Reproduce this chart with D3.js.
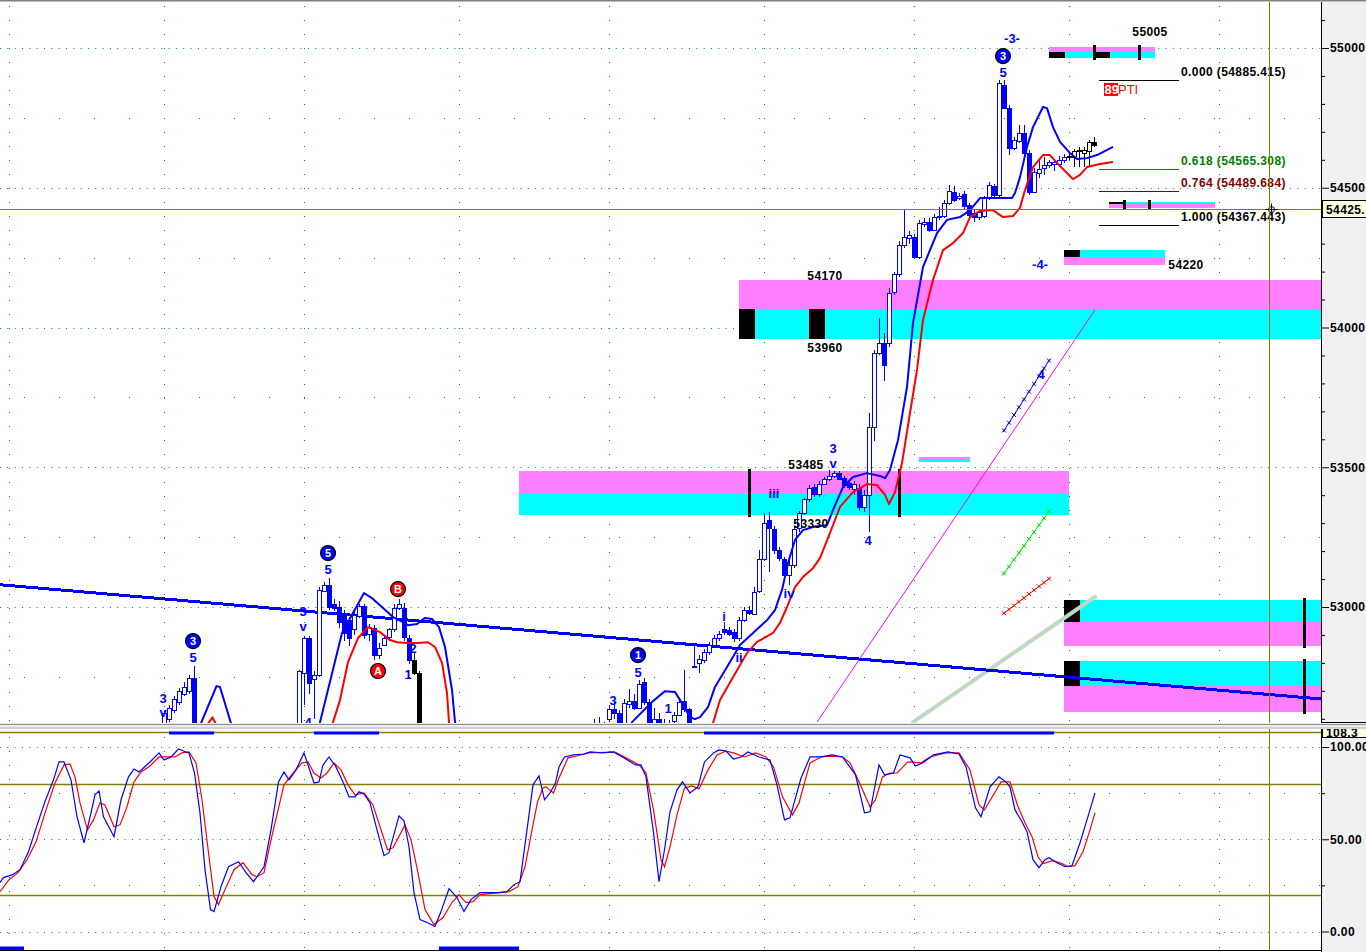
<!DOCTYPE html>
<html>
<head>
<meta charset="utf-8">
<title>Chart</title>
<script src="https://cdnjs.cloudflare.com/ajax/libs/d3/7.8.5/d3.min.js"></script>
<style>
  body { margin: 0; background: #fff; overflow: hidden; }
  svg text { font-family: "Liberation Sans", Arial, sans-serif; }
</style>
</head>
<body>
<div id="chart"></div>
<script>
// ---------- data ----------
var priceTicks = [53000, 53500, 54000, 54500, 55000];
var oscTicks = [0, 50, 100];
var oscBands = [20, 80];
var gridBars = [1, 32, 60, 91, 121, 152, 182, 213, 243];

// [bar, open, high, low, close]
var candles = [
  [32, 52560, 52630, 52550, 52620], [33, 52600, 52650, 52590, 52640], [34, 52630, 52680, 52620, 52670],
  [35, 52660, 52710, 52650, 52700], [36, 52690, 52730, 52680, 52715], [37, 52700, 52755, 52690, 52745],
  [38, 52745, 52790, 52480, 52500],
  [59, 52550, 52775, 52500, 52770], [60, 52765, 52895, 52650, 52890], [61, 52890, 52895, 52690, 52730],
  [62, 52740, 52770, 52600, 52755], [63, 52755, 53070, 52750, 53060], [64, 53060, 53090, 53055, 53080],
  [65, 53080, 53105, 52990, 53000], [66, 53010, 53030, 52985, 52995], [67, 53000, 53020, 52925, 52945],
  [68, 52970, 52990, 52880, 52905], [69, 52955, 52965, 52860, 52890], [70, 52920, 52985, 52900, 52970],
  [71, 52970, 53010, 52960, 53005], [72, 53005, 53010, 52885, 52900], [73, 52905, 52940, 52880, 52930],
  [74, 52925, 52935, 52810, 52830], [75, 52830, 52870, 52815, 52855], [76, 52865, 52895, 52860, 52890],
  [77, 52890, 52925, 52880, 52920], [78, 52920, 53010, 52910, 52995], [79, 52995, 53030, 52990, 53010],
  [80, 52995, 53015, 52880, 52890], [81, 52890, 52900, 52795, 52810], [82, 52810, 52840, 52755, 52765],
  [83, 52765, 52770, 52480, 52500],
  [118, 52540, 52600, 52520, 52560], [119, 52560, 52605, 52530, 52550], [120, 52550, 52590, 52520, 52540],
  [121, 52600, 52650, 52590, 52635], [122, 52635, 52665, 52600, 52620], [123, 52620, 52630, 52560, 52580],
  [124, 52580, 52670, 52570, 52655], [125, 52655, 52705, 52640, 52665], [126, 52665, 52690, 52630, 52640],
  [127, 52640, 52740, 52635, 52725], [128, 52730, 52745, 52650, 52660], [129, 52660, 52670, 52520, 52540],
  [130, 52540, 52640, 52530, 52600], [131, 52600, 52620, 52540, 52560], [132, 52560, 52600, 52540, 52580],
  [133, 52580, 52595, 52550, 52570], [134, 52595, 52625, 52580, 52615], [135, 52615, 52670, 52610, 52660],
  [136, 52665, 52775, 52625, 52635], [137, 52635, 52640, 52540, 52560], [138, 52785, 52870, 52780, 52790],
  [139, 52800, 52830, 52765, 52815], [140, 52810, 52850, 52800, 52840], [141, 52840, 52875, 52830, 52865],
  [142, 52865, 52900, 52855, 52890], [143, 52890, 52915, 52880, 52905], [144, 52920, 52945, 52900, 52910],
  [145, 52918, 52930, 52895, 52905], [146, 52910, 52920, 52875, 52890], [147, 52890, 52965, 52880, 52955],
  [148, 52955, 53000, 52945, 52990], [149, 52990, 53005, 52970, 52978], [150, 52978, 53070, 52970, 53055],
  [151, 53055, 53205, 53050, 53170], [152, 53170, 53335, 53165, 53300], [153, 53310, 53340, 53125, 53280],
  [154, 53280, 53290, 53190, 53205], [155, 53205, 53215, 53165, 53175], [156, 53172, 53180, 53100, 53115],
  [157, 53115, 53165, 53080, 53150], [158, 53150, 53290, 53140, 53280], [159, 53280, 53345, 53270, 53335],
  [160, 53335, 53390, 53330, 53385], [161, 53385, 53435, 53375, 53425], [162, 53430, 53440, 53395, 53405],
  [163, 53405, 53450, 53395, 53440], [164, 53440, 53465, 53435, 53458], [165, 53458, 53490, 53450, 53470],
  [166, 53470, 53485, 53460, 53480], [167, 53480, 53485, 53455, 53460], [168, 53460, 53470, 53425, 53435],
  [169, 53443, 53455, 53420, 53430], [170, 53422, 53450, 53400, 53440], [171, 53426, 53440, 53345, 53358],
  [172, 53358, 53420, 53340, 53400], [173, 53400, 53695, 53270, 53645], [174, 53645, 53920, 53595, 53910],
  [175, 53910, 54035, 53900, 53945], [176, 53945, 53980, 53810, 53865], [177, 53945, 54140, 53930, 54125],
  [178, 54125, 54200, 54115, 54190], [179, 54190, 54310, 54180, 54295], [180, 54295, 54420, 54285, 54325],
  [181, 54320, 54345, 54300, 54330], [182, 54325, 54335, 54250, 54252], [183, 54252, 54385, 54245, 54375],
  [184, 54370, 54390, 54360, 54378], [185, 54378, 54390, 54340, 54350], [186, 54350, 54405, 54345, 54395],
  [187, 54395, 54430, 54385, 54400], [188, 54400, 54455, 54390, 54445], [189, 54445, 54510, 54440, 54488],
  [190, 54485, 54505, 54450, 54456], [191, 54463, 54480, 54455, 54470], [192, 54478, 54490, 54425, 54435],
  [193, 54438, 54445, 54395, 54402], [194, 54410, 54420, 54377, 54395], [195, 54395, 54425, 54385, 54413],
  [196, 54400, 54470, 54390, 54463], [197, 54463, 54520, 54455, 54510], [198, 54506, 54515, 54460, 54474],
  [199, 54474, 54885, 54465, 54875], [200, 54868, 54885, 54780, 54785], [201, 54785, 54795, 54617, 54642],
  [202, 54642, 54680, 54635, 54671], [203, 54667, 54724, 54660, 54696], [204, 54696, 54724, 54615, 54624],
  [205, 54624, 54635, 54475, 54485], [206, 54485, 54570, 54480, 54556], [207, 54553, 54606, 54535, 54567],
  [208, 54570, 54610, 54546, 54581], [209, 54581, 54600, 54570, 54592], [210, 54585, 54600, 54560, 54592],
  [211, 54585, 54615, 54575, 54599], [212, 54599, 54620, 54590, 54610], [213, 54610, 54625, 54600, 54614],
  [214, 54610, 54640, 54574, 54631], [215, 54631, 54645, 54574, 54636], [216, 54625, 54645, 54574, 54635],
  [217, 54631, 54670, 54574, 54664], [218, 54664, 54682, 54645, 54653]
];
var blackBars = [82, 83, 213, 214, 215, 216, 217, 218];

// moving-average style curves, [bar, price], one array per visible stretch
var blueMA = [
  [[38.6, 52550], [42.5, 52717], [43.2, 52714], [45.8, 52560]],
  [[62.8, 52540], [63.2, 52588], [67.6, 52907], [72, 53050], [73.8, 53029], [77.8, 52964], [79.8, 52946],
   [80.8, 52935], [82.6, 52939], [84.2, 52961], [85.6, 52957], [87, 52928], [88.2, 52857], [89.6, 52703],
   [90.2, 52588], [90.5, 52540]],
  [[125.2, 52540], [125.6, 52588], [129.6, 52660], [132.2, 52699], [134.2, 52696], [135.6, 52656],
   [137.2, 52606], [138.2, 52599], [139.2, 52606], [140.8, 52642], [142.2, 52714], [144.6, 52785],
   [147.2, 52864], [149.8, 52907], [152.6, 52953], [154.2, 52989], [155.6, 53061], [156.8, 53157],
   [158.2, 53240], [159.8, 53275], [161.8, 53286], [164.6, 53293], [165.8, 53347], [167.8, 53429],
   [169.8, 53465], [172.6, 53479], [175.2, 53469], [176.2, 53461], [177.2, 53490], [178.8, 53597],
   [180.6, 53787], [181.8, 54016], [183.8, 54216], [186.6, 54338], [188.6, 54385], [191.2, 54395],
   [193.2, 54420], [195.2, 54463], [198.6, 54463], [201.6, 54463], [202.2, 54481], [203.2, 54538],
   [204.6, 54646], [205.8, 54717], [207.8, 54789], [208.6, 54785], [209.8, 54717], [211.2, 54664],
   [213.2, 54624], [214.6, 54603], [216.6, 54606], [218.6, 54617], [221.8, 54646]]
];
var redMA = [
  [[40.3, 52570], [41.7, 52605], [42.7, 52570]],
  [[65.5, 52540], [65.8, 52588], [67.2, 52667], [68.8, 52803], [70.8, 52889], [72.8, 52928], [75.2, 52910],
   [77.2, 52882], [78.6, 52874], [80.6, 52871], [82.6, 52871], [84.8, 52874], [86.2, 52857], [87.6, 52800],
   [88.6, 52692], [89, 52588], [89.2, 52540]],
  [[141.5, 52540], [141.8, 52585], [143.2, 52667], [145.8, 52749], [148.6, 52835], [150.6, 52875],
   [153.8, 52907], [155.2, 52943], [156.6, 53000], [158.2, 53071], [159.8, 53107], [161.8, 53139],
   [163.2, 53175], [165.2, 53265], [167.2, 53358], [169.8, 53411], [172.6, 53440], [174.6, 53436],
   [176.2, 53401], [177, 53368], [178.2, 53411], [179.6, 53515], [181.2, 53694], [182.6, 53848],
   [183.8, 54027], [185.8, 54170], [187.8, 54277], [189.8, 54302], [191.8, 54338], [193.2, 54395],
   [195.2, 54417], [197.8, 54420], [199.8, 54395], [201.8, 54399], [203.2, 54428], [204.2, 54492],
   [205.8, 54574], [207.8, 54617], [209.2, 54617], [210.6, 54589], [212.6, 54553], [213.8, 54531],
   [215.2, 54546], [216.6, 54574], [219.2, 54585], [221.8, 54592]]
];

// drawn lines, [bar, price] end points
var trendBlue = [[-1, 53080], [264, 52670]];
var trendMagenta = [[162.6, 52588], [218.2, 54063]];
var trendGreyGreen = [[181.8, 52588], [218.2, 53036]];
var crossBlue = [[199.8, 53626], [209.2, 53887]];
var crossGreen = [[199.8, 53115], [209.2, 53347]];
var crossRed = [[199.8, 52975], [209.2, 53104]];
var crossMarks = [200, 201, 202, 203, 204, 205, 206, 207, 208, 209];

// zones: bar span, [top, middle, bottom] price, kind (S = magenta over cyan, D = cyan over magenta)
var zoneBars = [[147, 264], [103, 213], [209, 230.2], [212, 232.2], [221, 242.2], [183, 193.2], [212, 264], [212, 264]];
var zoneLevels = [[54170, 54065, 53960], [53485, 53407, 53330], [55005, 54986, 54964], [54277, 54252, 54222],
                  [54449, 54442, 54428], [53537, 53530, 53519], [53025, 52946, 52860], [52807, 52717, 52624]];
var zoneKind = ['S', 'S', 'S', 'D', 'D', 'S', 'D', 'D'];
var zoneBlocks = [[147, 161], [], [209, 218], [212], [221], [], [212], [212]];
var zoneMarks = [[], [149, 179], [218, 227], [], [224, 229], [], [260], [260]];

// fibonacci retracement
var fibRatios = ['0.000', '0.618', '0.764', '1.000'];
var fibPrices = [54885.415, 54565.308, 54489.684, 54367.443];
var fibBars = [219, 235];

// annotations [bar, price, text]
var waveLabels = [
  [31.8, 52674, '3'], [31.8, 52624, 'v'], [37.8, 52821, '5'], [64.8, 53136, '5'], [59.8, 52986, '3'],
  [59.8, 52932, 'v'], [81.8, 52853, '2'], [80.8, 52760, '1'], [60.8, 52588, '4'], [126.8, 52767, '5'],
  [121.8, 52667, '3'], [132.8, 52639, '1'], [144, 52968, 'i'], [147, 52821, 'ii'], [154, 53408, 'iii'],
  [157, 53050, 'iv'], [165.8, 53569, '3'], [165.8, 53515, 'v'], [172.8, 53240, '4'], [199.8, 54914, '5'],
  [201.6, 55036, '-3-'], [207.2, 54227, '-4-'], [207.4, 53834, '4']
];
var circleLabels = [[37.8, 52878, '3'], [64.8, 53193, '5'], [126.8, 52828, '1'], [199.8, 54971, '3']];
var redCircleLabels = [[78.8, 53064, 'B'], [74.8, 52771, 'A']];
var priceLabels = [
  [229.2, 55057, '55005'], [164.2, 54184, '54170'], [164.2, 53927, '53960'], [160.4, 53508, '53485'],
  [161.4, 53297, '53330'], [236.4, 54224, '54220']
];
var ptiLabel = [220, 54832, '89', 'PTI'];

// oscillator [bar, value]
var oscK = [
  [-0.8, 26.5], [-0.1, 29.2], [1.7, 30.8], [3.2, 33.5], [4.9, 43.2], [6.3, 55.1], [8.1, 69.7], [9.9, 82.2],
  [11, 91.9], [12, 91.9], [13.4, 82.2], [14.6, 62.2], [16, 48.1], [17.4, 64.3], [18.2, 74.1], [19, 76.2],
  [19.9, 62.2], [22, 51.4], [23.4, 71.4], [24.9, 83.8], [26, 88.1], [27, 86.5], [29.2, 91.9], [31, 96.8],
  [32, 93.0], [33.4, 94.6], [34.9, 98.9], [36.4, 97.3], [37, 96.8], [38.1, 85.9], [39.2, 64.3], [40.2, 33.5],
  [41.3, 11.9], [42, 10.8], [43.4, 24.3], [44.9, 35.1], [46.9, 37.8], [48.4, 31.9], [49.9, 27.0], [52, 35.1],
  [53.4, 55.1], [54.9, 81.1], [56, 86.5], [57, 82.2], [58.4, 87.6], [60, 96.8], [62, 80.5], [63, 81.1],
  [63.8, 90.3], [65, 94.6], [66.4, 89.2], [67.8, 81.1], [69, 73.0], [70.2, 73.0], [71, 75.7], [72, 74.6],
  [73.2, 69.7], [74.6, 55.1], [76, 41.1], [77, 42.7], [79, 62.7], [80, 60.0], [81, 45.9], [82, 21.1],
  [83.2, 6.5], [84.6, 4.9], [86.2, 2.7], [87.4, 10.8], [89, 23.2], [90.6, 18.4], [92, 10.8], [93.4, 17.3],
  [95.2, 21.1], [98.8, 21.1], [100.6, 21.6], [102, 25.4], [103.2, 27.0], [104.6, 55.1], [105.8, 79.5],
  [107, 84.3], [108.1, 71.4], [109.2, 75.1], [110.3, 80.5], [111, 89.2], [112.1, 94.6], [113.9, 95.7],
  [116.1, 96.2], [117.2, 97.3], [119.7, 96.8], [121.9, 97.3], [123.7, 94.6], [126.3, 90.3], [127.4, 90.3],
  [128.4, 83.8], [129.9, 53.5], [131, 27.0], [132.1, 44.3], [133.2, 64.9], [134.6, 76.8], [135.7, 81.1],
  [137.2, 75.1], [138.8, 78.4], [140.1, 91.9], [141.9, 96.8], [143, 98.4], [144.4, 97.8], [145.9, 93.5],
  [147.4, 94.6], [148.8, 97.3], [151, 94.6], [153.2, 93.0], [154.6, 79.5], [156.1, 60.5], [157.2, 61.6],
  [159.4, 83.2], [161.2, 94.6], [163.4, 94.6], [165.6, 95.7], [167.7, 94.6], [170.3, 84.9], [172.1, 64.3],
  [173.2, 64.9], [175, 90.3], [176.1, 84.9], [177.9, 85.9], [179.2, 95.7], [181.2, 94.1], [182.3, 89.7],
  [183.7, 91.4], [185.9, 95.7], [188.8, 97.3], [191, 96.2], [192.4, 89.2], [194.3, 67.0], [195.4, 62.2],
  [197.2, 78.4], [199, 83.8], [200.4, 81.1], [201.2, 78.4], [202.2, 65.9], [203.6, 59.5], [204.6, 54.1],
  [205.8, 38.9], [207, 34.6], [208.2, 38.9], [209, 40.0], [210.6, 37.3], [212.2, 35.1], [213.6, 35.7],
  [215.2, 48.1], [216.6, 60.5], [218.2, 75.1]
];
var oscD = [
  [-0.8, 21.6], [1, 28.1], [2.8, 31.9], [4.6, 38.9], [6.4, 48.6], [8.4, 65.9], [10.2, 80.5], [12, 90.3],
  [13.2, 90.8], [14.2, 83.8], [15.2, 69.7], [16.7, 55.1], [17.9, 60.5], [19.2, 69.7], [20.2, 68.6], [22, 56.8],
  [23.2, 57.8], [24.6, 67.6], [26, 81.1], [27.4, 86.5], [29.2, 89.7], [31, 94.6], [34.2, 94.6], [35.6, 96.8],
  [37, 97.3], [38.4, 91.4], [39.6, 71.4], [41, 40.5], [42, 18.9], [42.9, 14.6], [44.2, 22.7], [46, 33.5],
  [47.8, 37.3], [49.6, 30.8], [50.6, 29.7], [52, 31.9], [53.4, 49.7], [56, 79.5], [57.8, 85.9], [59.6, 91.4],
  [60.8, 91.9], [62, 85.9], [63.4, 83.2], [64.6, 85.9], [66, 91.4], [67.4, 87.6], [68.8, 79.5], [70.2, 74.1],
  [72, 75.1], [73.8, 68.6], [75.2, 56.8], [76.7, 44.3], [77.8, 45.4], [80.2, 57.8], [81.4, 49.7], [82.8, 31.9],
  [84.2, 11.9], [86, 3.8], [87.8, 7.6], [89.6, 15.7], [91, 20.0], [92.4, 15.7], [93.8, 16.2], [95.2, 20.0],
  [99.2, 21.1], [101, 21.6], [102.8, 24.3], [104.2, 35.1], [105.6, 55.1], [106.7, 70.3], [107.8, 77.8],
  [108.4, 78.4], [109.9, 75.1], [111, 83.2], [112.8, 94.1], [114.6, 95.1], [116.8, 96.8], [122.2, 97.3],
  [124.4, 94.1], [127, 90.3], [128.4, 85.9], [129.9, 65.9], [131.4, 38.9], [132.1, 35.1], [133.2, 45.9],
  [134.6, 63.2], [136.1, 77.8], [137.6, 78.9], [139, 77.3], [140.8, 87.6], [142.6, 95.7], [144.4, 97.8],
  [145.9, 96.8], [148.1, 94.6], [150.3, 96.8], [152.4, 94.6], [153.9, 89.2], [155.7, 73.0], [157.7, 63.2],
  [159, 69.7], [161.2, 91.4], [163.4, 94.6], [165.6, 95.1], [167.7, 94.6], [169.2, 91.4], [171, 81.1],
  [173.2, 67.6], [174.3, 71.4], [175.7, 83.8], [177.2, 85.9], [178.6, 85.9], [180.8, 91.9], [183.4, 91.4],
  [185.2, 94.6], [188.4, 96.8], [191, 96.8], [193.2, 87.6], [195, 68.6], [196.1, 65.9], [197.9, 74.1],
  [199.4, 81.1], [201.2, 81.1], [202.8, 67.6], [204.2, 58.9], [205.6, 51.4], [206.8, 40.5], [207.8, 36.8],
  [209.8, 38.4], [211.6, 36.8], [212.8, 35.1], [214.2, 35.7], [215.8, 43.2], [217.2, 55.1], [218.2, 64.3]
];
var topMarkers = [[33, 42], [62, 75], [140, 210]];
var bottomMarkers = [[-1, 4], [87, 103]];

var crossBar = 253;
var crossPrice = 54425;
var crossOsc = 108.3;

// ---------- layout ----------
var W = 1366, H = 952;
var plotRight = 1321;
var priceTop = 2, priceBottom = 726;
var oscTop = 731, oscBottom = 950;

var x = d3.scaleLinear().domain([0, 218]).range([4, 1094]);
var y = d3.scaleLinear().domain([53000, 55000]).range([607, 48]);
var yo = d3.scaleLinear().domain([0, 100]).range([931.5, 747]);

var BLUE = '#0000ff', RED = '#ff0000', OLIVE = '#808000', TEAL = '#008080';
var MAGENTA = '#ff80ff', CYAN = '#00ffff';
var SPACING = '0.4px';

var svg = d3.select('#chart')
  .append('svg')
    .attr('width', W)
    .attr('height', H);

svg.append('rect').attr('width', W).attr('height', H).attr('fill', '#fff');

var defs = svg.append('defs');
defs.append('clipPath').attr('id', 'clipPrice')
  .append('rect').attr('x', 0).attr('y', priceTop).attr('width', plotRight).attr('height', priceBottom - priceTop);
defs.append('clipPath').attr('id', 'clipOsc')
  .append('rect').attr('x', 0).attr('y', oscTop).attr('width', plotRight).attr('height', oscBottom - oscTop);
defs.append('clipPath').attr('id', 'clipOscLabel')
  .append('rect').attr('x', plotRight).attr('y', 729).attr('width', 50).attr('height', 10);

function px(v) { return Math.round(v) + 0.5; }

// ---------- price panel ----------
var price = svg.append('g').attr('clip-path', 'url(#clipPrice)');

// grid
var grid = price.append('g');
grid.selectAll('line.h')
  .data(priceTicks)
  .enter().append('line')
    .attr('x1', 0).attr('x2', plotRight)
    .attr('y1', function(d) { return px(y(d)); })
    .attr('y2', function(d) { return px(y(d)); })
    .attr('stroke', TEAL)
    .attr('stroke-dasharray', '1,6.33');
var halfLevels = [52750, 53250, 53750, 54250, 54750];
var sparse = d3.range(4, 264, 7);
halfLevels.forEach(function(lv) {
  grid.selectAll(null)
    .data(sparse)
    .enter().append('rect')
      .attr('x', function(d) { return Math.round(x(d)); })
      .attr('y', Math.round(y(lv)))
      .attr('width', 1).attr('height', 1)
      .attr('fill', TEAL);
});
grid.selectAll('line.v')
  .data(gridBars)
  .enter().append('line')
    .attr('x1', function(d) { return px(x(d)); })
    .attr('x2', function(d) { return px(x(d)); })
    .attr('y1', 0).attr('y2', priceBottom)
    .attr('stroke', TEAL)
    .attr('stroke-dasharray', '1,13')
    .attr('stroke-dashoffset', 8);

// zones
var zg = price.append('g').attr('shape-rendering', 'crispEdges');
zoneBars.forEach(function(b, i) {
  var lv = zoneLevels[i];
  var x0 = x(b[0]), x1 = x(b[1]);
  var topCol = zoneKind[i] === 'S' ? MAGENTA : CYAN;
  var botCol = zoneKind[i] === 'S' ? CYAN : MAGENTA;
  zg.append('rect')
    .attr('x', x0).attr('y', y(lv[0]))
    .attr('width', x1 - x0).attr('height', y(lv[1]) - y(lv[0]))
    .attr('fill', topCol);
  zg.append('rect')
    .attr('x', x0).attr('y', y(lv[1]))
    .attr('width', x1 - x0).attr('height', y(lv[2]) - y(lv[1]))
    .attr('fill', botCol);
  // black blocks sit in the cyan half
  var by0 = zoneKind[i] === 'S' ? y(lv[1]) : y(lv[0]);
  var by1 = zoneKind[i] === 'S' ? y(lv[2]) : y(lv[1]);
  zg.selectAll(null)
    .data(zoneBlocks[i])
    .enter().append('rect')
      .attr('x', function(d) { return x(d); })
      .attr('y', by0)
      .attr('width', x(3.2) - x(0))
      .attr('height', by1 - by0)
      .attr('fill', '#000');
  zg.selectAll(null)
    .data(zoneMarks[i])
    .enter().append('rect')
      .attr('x', function(d) { return Math.round(x(d)) - 1; })
      .attr('y', y(lv[0]) - 2)
      .attr('width', 3)
      .attr('height', y(lv[2]) - y(lv[0]) + 4)
      .attr('fill', '#000');
});

// trend lines
var seg = d3.line()
  .x(function(d) { return x(d[0]); })
  .y(function(d) { return y(d[1]); });

price.append('path').datum(trendGreyGreen)
  .attr('d', seg).attr('fill', 'none')
  .attr('stroke', '#c0d8c0').attr('stroke-width', 4).attr('stroke-linecap', 'round');
price.append('path').datum(trendMagenta)
  .attr('d', seg).attr('fill', 'none')
  .attr('stroke', '#ff00ff').attr('stroke-width', 1);
price.append('path').datum(trendBlue)
  .attr('d', seg).attr('fill', 'none')
  .attr('stroke', BLUE).attr('stroke-width', 3)
  .attr('shape-rendering', 'crispEdges');

function crossLine(pts, col) {
  price.append('path').datum(pts)
    .attr('d', seg).attr('fill', 'none')
    .attr('stroke', col).attr('stroke-width', 1);
  var a = pts[0], b = pts[1];
  var interp = d3.scaleLinear().domain([a[0], b[0]]).range([a[1], b[1]]);
  crossMarks.forEach(function(k) {
    var cx = x(k), cy = y(interp(k));
    price.append('path')
      .attr('d', 'M' + (cx - 2) + ',' + (cy - 2) + 'L' + (cx + 2) + ',' + (cy + 2) +
                 'M' + (cx - 2) + ',' + (cy + 2) + 'L' + (cx + 2) + ',' + (cy - 2))
      .attr('stroke', col).attr('stroke-width', 1);
  });
}
crossLine(crossBlue, BLUE);
crossLine(crossGreen, '#00e000');
crossLine(crossRed, RED);

// candles
var cg = price.append('g').attr('shape-rendering', 'crispEdges');
var bar = cg.selectAll('g.bar')
  .data(candles)
  .enter().append('g');
function barColor(d) { return blackBars.indexOf(d[0]) >= 0 ? '#000' : BLUE; }
bar.append('line')
  .attr('x1', function(d) { return px(x(d[0])); })
  .attr('x2', function(d) { return px(x(d[0])); })
  .attr('y1', function(d) { return y(d[2]); })
  .attr('y2', function(d) { return y(d[3]); })
  .attr('stroke', barColor);
bar.append('rect')
  .attr('x', function(d) { return Math.round(x(d[0])) - 1.5; })
  .attr('y', function(d) { return Math.round(Math.min(y(d[1]), y(d[4]))) + 0.5; })
  .attr('width', 4)
  .attr('height', function(d) { return Math.max(1, Math.round(Math.abs(y(d[1]) - y(d[4])))); })
  .attr('fill', function(d) { return d[4] >= d[1] ? '#fff' : barColor(d); })
  .attr('stroke', barColor);

// curves
var curve = d3.line()
  .x(function(d) { return x(d[0]); })
  .y(function(d) { return y(d[1]); });
redMA.forEach(function(s) {
  price.append('path').datum(s)
    .attr('d', curve).attr('fill', 'none')
    .attr('stroke', RED).attr('stroke-width', 2).attr('stroke-linejoin', 'round');
});
blueMA.forEach(function(s) {
  price.append('path').datum(s)
    .attr('d', curve).attr('fill', 'none')
    .attr('stroke', BLUE).attr('stroke-width', 2).attr('stroke-linejoin', 'round');
});

// fibonacci
var fibCols = ['#000', '#008000', '#800000', '#000'];
fibPrices.forEach(function(p, i) {
  price.append('line')
    .attr('x1', x(fibBars[0])).attr('x2', x(fibBars[1]))
    .attr('y1', px(y(p))).attr('y2', px(y(p)))
    .attr('stroke', fibCols[i]).attr('shape-rendering', 'crispEdges');
  price.append('text')
    .attr('x', x(fibBars[1]) + 2)
    .attr('y', y(p) - 4)
    .attr('fill', fibCols[i])
    .attr('font-size', 12).attr('font-weight', 'bold')
    .attr('letter-spacing', SPACING)
    .text(fibRatios[i] + ' (' + d3.format('.3f')(p) + ')');
});

// 89PTI tag
var ptx = x(ptiLabel[0]), pty = y(ptiLabel[1]);
price.append('rect').attr('x', ptx).attr('y', pty - 12).attr('width', 14).attr('height', 13).attr('fill', RED);
price.append('text').attr('x', ptx + 0.5).attr('y', pty - 1).attr('fill', '#fff')
  .attr('font-size', 13).attr('font-weight', 'bold').text(ptiLabel[2]);
price.append('text').attr('x', ptx + 14).attr('y', pty - 1).attr('fill', RED)
  .attr('font-size', 13).text(ptiLabel[3]);

// labels
price.selectAll('text.wave')
  .data(waveLabels)
  .enter().append('text')
    .attr('x', function(d) { return x(d[0]); })
    .attr('y', function(d) { return y(d[1]); })
    .attr('dy', '0.36em')
    .attr('text-anchor', 'middle')
    .attr('fill', BLUE)
    .attr('font-size', 13).attr('font-weight', 'bold')
    .text(function(d) { return d[2]; });

function circled(list, fill) {
  var g = price.selectAll(null).data(list).enter().append('g')
    .attr('transform', function(d) { return 'translate(' + x(d[0]) + ',' + y(d[1]) + ')'; });
  g.append('circle').attr('r', 7.5).attr('fill', fill).attr('stroke', '#000').attr('stroke-width', 1.2);
  g.append('text')
    .attr('dy', '0.36em').attr('text-anchor', 'middle')
    .attr('fill', '#fff').attr('font-size', 11).attr('font-weight', 'bold')
    .text(function(d) { return d[2]; });
}
circled(circleLabels, BLUE);
circled(redCircleLabels, RED);

price.selectAll('text.lvl')
  .data(priceLabels)
  .enter().append('text')
    .attr('x', function(d) { return x(d[0]); })
    .attr('y', function(d) { return y(d[1]); })
    .attr('dy', '0.36em')
    .attr('text-anchor', 'middle')
    .attr('fill', '#000')
    .attr('font-size', 12).attr('font-weight', 'bold')
    .attr('letter-spacing', SPACING)
    .text(function(d) { return d[2]; });

// crosshair
price.append('line')
  .attr('x1', 0).attr('x2', plotRight)
  .attr('y1', px(y(crossPrice))).attr('y2', px(y(crossPrice)))
  .attr('stroke', OLIVE);
var cxp = px(x(crossBar)) + 2, cyp = px(y(crossPrice));
price.append('path')
  .attr('d', 'M' + (cxp - 6) + ',' + cyp + 'H' + (cxp + 6) + 'M' + cxp + ',' + (cyp - 6) + 'V' + (cyp + 6))
  .attr('stroke', '#000');
price.append('circle').attr('cx', cxp).attr('cy', cyp).attr('r', 3)
  .attr('fill', 'none').attr('stroke', '#000');

// ---------- oscillator panel ----------
var osc = svg.append('g').attr('clip-path', 'url(#clipOsc)');
osc.selectAll('line.h')
  .data(oscTicks)
  .enter().append('line')
    .attr('x1', 0).attr('x2', plotRight)
    .attr('y1', function(d) { return px(yo(d)); })
    .attr('y2', function(d) { return px(yo(d)); })
    .attr('stroke', TEAL)
    .attr('stroke-dasharray', '1,6.33');
[25, 75].forEach(function(lv) {
  osc.selectAll(null)
    .data(sparse)
    .enter().append('rect')
      .attr('x', function(d) { return Math.round(x(d)); })
      .attr('y', Math.round(yo(lv)))
      .attr('width', 1).attr('height', 1)
      .attr('fill', TEAL);
});
osc.selectAll('line.v')
  .data(gridBars)
  .enter().append('line')
    .attr('x1', function(d) { return px(x(d)); })
    .attr('x2', function(d) { return px(x(d)); })
    .attr('y1', oscTop).attr('y2', oscBottom)
    .attr('stroke', TEAL)
    .attr('stroke-dasharray', '1,13')
    .attr('stroke-dashoffset', 8);
osc.selectAll('line.band')
  .data(oscBands)
  .enter().append('line')
    .attr('x1', 0).attr('x2', plotRight)
    .attr('y1', function(d) { return px(yo(d)); })
    .attr('y2', function(d) { return px(yo(d)); })
    .attr('stroke', OLIVE).attr('stroke-width', 1.3);
osc.append('line')
  .attr('x1', 0).attr('x2', plotRight)
  .attr('y1', px(yo(crossOsc))).attr('y2', px(yo(crossOsc)))
  .attr('stroke', OLIVE).attr('stroke-width', 1.3);

var oscLine = d3.line()
  .x(function(d) { return x(d[0]); })
  .y(function(d) { return yo(d[1]); });
osc.append('path').datum(oscD)
  .attr('d', oscLine).attr('fill', 'none').attr('stroke', RED).attr('stroke-width', 1.2);
osc.append('path').datum(oscK)
  .attr('d', oscLine).attr('fill', 'none').attr('stroke', BLUE).attr('stroke-width', 1.2);

svg.append('line')
  .attr('x1', 0).attr('x2', plotRight).attr('y1', 950.5).attr('y2', 950.5)
  .attr('stroke', '#000');
svg.selectAll('rect.tm')
  .data(topMarkers)
  .enter().append('rect')
    .attr('x', function(d) { return x(d[0]); })
    .attr('y', 731.5)
    .attr('width', function(d) { return x(d[1]) - x(d[0]); })
    .attr('height', 3)
    .attr('fill', BLUE);
svg.selectAll('rect.bm')
  .data(bottomMarkers)
  .enter().append('rect')
    .attr('x', function(d) { return Math.max(0, x(d[0])); })
    .attr('y', 946.5)
    .attr('width', function(d) { return x(d[1]) - Math.max(0, x(d[0])); })
    .attr('height', 3.5)
    .attr('fill', BLUE);

// vertical crosshair through both panels
svg.append('line')
  .attr('x1', px(x(crossBar))).attr('x2', px(x(crossBar)))
  .attr('y1', priceTop).attr('y2', oscBottom)
  .attr('stroke', OLIVE);

// ---------- axes ----------
svg.append('rect')
  .attr('x', plotRight + 1).attr('y', 0).attr('width', W - plotRight).attr('height', H)
  .attr('fill', '#f0f0f0');

var yAxis = d3.axisRight(y)
  .tickValues(priceTicks)
  .tickSize(7)
  .tickPadding(1)
  .tickFormat(d3.format('d'));
var ya = svg.append('g')
  .attr('transform', 'translate(' + (plotRight + 1) + ',0)')
  .call(yAxis);
ya.select('.domain').remove();
ya.selectAll('text').attr('font-size', 12).attr('fill', '#000').attr('font-weight', 'bold')
  .attr('letter-spacing', SPACING)
  .style('font-family', '"Liberation Sans", Arial, sans-serif');
var yMinor = d3.axisRight(y)
  .tickValues(d3.range(52600, 55200, 100).filter(function(d) { return priceTicks.indexOf(d) < 0; }))
  .tickSize(3).tickFormat('');
svg.append('g').attr('transform', 'translate(' + (plotRight + 1) + ',0)')
  .call(yMinor).select('.domain').remove();

var oAxis = d3.axisRight(yo)
  .tickValues(oscTicks)
  .tickSize(7)
  .tickPadding(1)
  .tickFormat(d3.format('.2f'));
var oa = svg.append('g')
  .attr('transform', 'translate(' + (plotRight + 1) + ',0)')
  .call(oAxis);
oa.select('.domain').remove();
oa.selectAll('text').attr('font-size', 12).attr('fill', '#000').attr('font-weight', 'bold')
  .attr('letter-spacing', SPACING)
  .style('font-family', '"Liberation Sans", Arial, sans-serif');
var oMinor = d3.axisRight(yo).tickValues([25, 75]).tickSize(3).tickFormat('');
svg.append('g').attr('transform', 'translate(' + (plotRight + 1) + ',0)')
  .call(oMinor).select('.domain').remove();

svg.append('line')
  .attr('x1', plotRight + 0.5).attr('x2', plotRight + 0.5).attr('y1', 0).attr('y2', 722)
  .attr('stroke', '#000');
svg.append('line')
  .attr('x1', plotRight).attr('x2', W).attr('y1', 722.5).attr('y2', 722.5)
  .attr('stroke', '#000');
svg.append('line')
  .attr('x1', plotRight + 0.5).attr('x2', plotRight + 0.5).attr('y1', 728).attr('y2', H)
  .attr('stroke', '#000');

// crosshair value boxes
var cy0 = y(crossPrice);
svg.append('rect')
  .attr('x', plotRight + 1.5).attr('y', Math.round(cy0) - 8.5).attr('width', 50).attr('height', 17)
  .attr('fill', '#ffffe1').attr('stroke', '#000');
svg.append('text')
  .attr('x', plotRight + 5).attr('y', Math.round(cy0) + 5)
  .attr('font-size', 12).attr('font-weight', 'bold').attr('fill', '#000')
  .attr('letter-spacing', SPACING)
  .text(d3.format('d')(crossPrice) + '.');

var olab = svg.append('g').attr('clip-path', 'url(#clipOscLabel)');
olab.append('rect')
  .attr('x', plotRight + 1.5).attr('y', 723.5).attr('width', 50).attr('height', 14)
  .attr('fill', '#ffffe1').attr('stroke', '#000');
olab.append('text')
  .attr('x', plotRight + 5).attr('y', 737)
  .attr('font-size', 12).attr('font-weight', 'bold').attr('fill', '#000')
  .attr('letter-spacing', SPACING)
  .text(d3.format('.1f')(crossOsc));

// frame: top edge and panel divider
svg.append('rect').attr('x', 0).attr('y', 0).attr('width', W).attr('height', 1).attr('fill', '#808080');
svg.append('rect').attr('x', 0).attr('y', 1).attr('width', W).attr('height', 1).attr('fill', '#c0c0c0');
svg.append('rect').attr('x', 0).attr('y', 723).attr('width', W).attr('height', 6).attr('fill', '#ececec');
svg.append('rect').attr('x', 0).attr('y', 724).attr('width', W).attr('height', 1).attr('fill', '#909090');
svg.append('rect').attr('x', 0).attr('y', 727.5).attr('width', W).attr('height', 1).attr('fill', '#b8b8b8');
</script>
</body>
</html>
